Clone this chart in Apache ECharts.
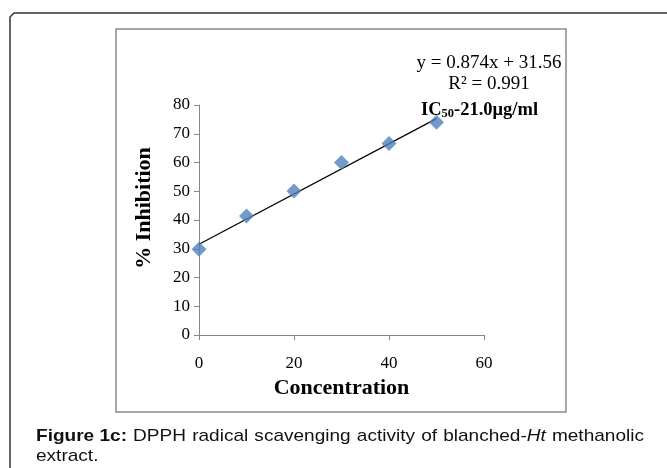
<!DOCTYPE html>
<html>
<head>
<meta charset="utf-8">
<script src="https://cdn.jsdelivr.net/npm/echarts@6/dist/echarts.min.js"></script>
<style>
  html, body { margin: 0; padding: 0; background: #fff; }
  #chart { width: 667px; height: 468px; }
</style>
</head>
<body>
<div id="chart"></div>
<script>
// данные с рисунка
const concentration = [0, 10, 20, 30, 40, 50];
const inhibition = [29.8, 41.4, 50.1, 60.0, 66.6, 74.0];
// концы линии тренда (y = 0.874x + 31.56)
const trendX = [0, 50];
const trendY = [31.56, 75.26];
const yTicks = [0, 10, 20, 30, 40, 50, 60, 70, 80];
const xTicks = [0, 20, 40, 60];

const serif = '"Liberation Serif", "Times New Roman", serif';
const sans = '"Liberation Sans", Arial, sans-serif';

const chart = echarts.init(document.getElementById('chart'));

// подпись рисунка, первая строка выровнена по ширине
const capSize = 17;
const capScale = 1.12;
const capLeft = 36;
const capRight = 644;
const captionLine1 = [
    { parts: [['Figure 1c:', 'bold']] },
    { parts: [['DPPH', '']] },
    { parts: [['radical', '']] },
    { parts: [['scavenging', '']] },
    { parts: [['activity', '']] },
    { parts: [['of', '']] },
    { parts: [['blanched-', ''], ['Ht', 'italic']] },
    { parts: [['methanolic', '']] }
];

const ctx = document.createElement('canvas').getContext('2d');
const measure = (parts) => parts.reduce((sum, [t, st]) => {
    ctx.font = `${st} ${capSize}px ${sans}`;
    return sum + ctx.measureText(t).width * capScale;
}, 0);

const widths = captionLine1.map(w => measure(w.parts));
const totalW = widths.reduce((a, b) => a + b, 0);
const gap = (capRight - capLeft - totalW) / (captionLine1.length - 1);

const captionRich = {
    bold: { fontFamily: sans, fontSize: capSize, fontWeight: 'bold', fill: '#111' },
    italic: { fontFamily: sans, fontSize: capSize, fontStyle: 'italic', fill: '#111' },
    n: { fontFamily: sans, fontSize: capSize, fill: '#111' }
};

const captionText = (x, y, text) => ({
    type: 'text',
    x: x,
    y: y,
    scaleX: capScale,
    silent: true,
    style: {
        text: text,
        fontFamily: sans,
        fontSize: capSize,
        fill: '#111',
        align: 'left',
        verticalAlign: 'middle',
        rich: captionRich
    }
});

const graphics = [
    // внешняя рамка
    {
        type: 'polyline',
        silent: true,
        shape: { points: [[10, 468], [10, 17], [14, 13], [667, 13]] },
        style: { stroke: '#333', lineWidth: 1.5, fill: null }
    },
    // рамка диаграммы
    {
        type: 'rect',
        silent: true,
        shape: { x: 116, y: 29, width: 450, height: 383 },
        style: { stroke: '#8a8a8a', lineWidth: 1.5, fill: null }
    },
    // подпись оси Y
    {
        type: 'text',
        x: 144,
        y: 208,
        rotation: Math.PI / 2,
        style: {
            text: '% Inhibition',
            fontFamily: serif,
            fontSize: 22,
            fontWeight: 'bold',
            fill: '#000',
            align: 'center',
            verticalAlign: 'middle'
        }
    },
    // уравнение тренда
    {
        type: 'text',
        x: 489,
        y: 63,
        style: {
            text: 'y = 0.874x + 31.56',
            fontFamily: serif,
            fontSize: 19,
            fill: '#000',
            align: 'center',
            verticalAlign: 'middle'
        }
    },
    {
        type: 'text',
        x: 489,
        y: 84,
        style: {
            text: 'R² = 0.991',
            fontFamily: serif,
            fontSize: 19,
            fill: '#000',
            align: 'center',
            verticalAlign: 'middle'
        }
    },
    {
        type: 'text',
        x: 421,
        y: 110,
        style: {
            text: '{b|IC}{s|50}{b|-21.0μg/ml}',
            fill: '#000',
            align: 'left',
            verticalAlign: 'middle',
            rich: {
                b: { fontFamily: serif, fontSize: 18.5, fontWeight: 'bold', fill: '#000' },
                s: { fontFamily: serif, fontSize: 12.5, fontWeight: 'bold', fill: '#000', padding: [8, 0, 0, 0] }
            }
        }
    }
];

let cx = capLeft;
captionLine1.forEach((w, i) => {
    const txt = w.parts.map(([t, st]) => `{${st || 'n'}|${t}}`).join('');
    graphics.push(captionText(cx, 436, txt));
    cx += widths[i] + gap;
});
graphics.push(captionText(capLeft, 456, 'extract.'));

const option = {
    animation: false,
    backgroundColor: '#fff',
    grid: { left: 199, right: 183, top: 105, bottom: 133, containLabel: false },
    xAxis: {
        type: 'value',
        min: xTicks[0],
        max: xTicks[xTicks.length - 1],
        interval: 20,
        name: 'Concentration',
        nameLocation: 'middle',
        nameGap: 42,
        nameTextStyle: { fontFamily: serif, fontSize: 22, fontWeight: 'bold', color: '#000' },
        axisLine: { show: true, onZero: false, lineStyle: { color: '#868686', width: 1 } },
        axisTick: { show: true, length: 5, lineStyle: { color: '#868686' } },
        axisLabel: { fontFamily: serif, fontSize: 17, color: '#000', margin: 20 },
        splitLine: { show: false }
    },
    yAxis: {
        type: 'value',
        min: yTicks[0],
        max: yTicks[yTicks.length - 1],
        interval: 10,
        axisLine: { show: true, lineStyle: { color: '#868686', width: 1 } },
        axisTick: { show: true, length: 5, lineStyle: { color: '#868686' } },
        axisLabel: { fontFamily: serif, fontSize: 17, color: '#000', margin: 9 },
        splitLine: { show: false }
    },
    series: [
        {
            name: 'Trend',
            type: 'line',
            data: trendX.map((x, i) => [x, trendY[i]]),
            symbol: 'none',
            lineStyle: { color: '#000', width: 1.2 },
            z: 3,
            silent: true
        },
        {
            name: '% Inhibition',
            type: 'scatter',
            data: concentration.map((x, i) => [x, inhibition[i]]),
            symbol: 'diamond',
            symbolSize: [15, 15],
            itemStyle: { color: '#4F81BD' },
            z: 4
        }
    ],
    graphic: graphics
};

chart.setOption(option);
</script>
</body>
</html>
